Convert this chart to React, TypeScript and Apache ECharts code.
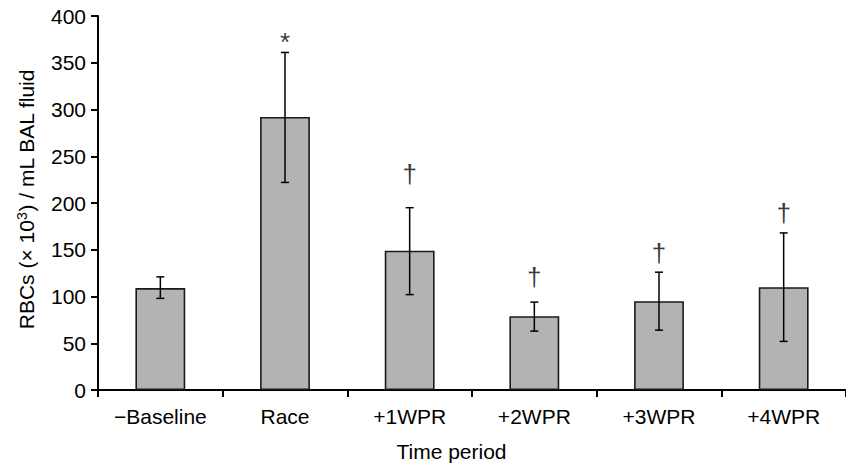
import React, { useEffect, useRef } from "react";
import * as echarts from "echarts";

const categories = ["\u2212Baseline", "Race", "+1WPR", "+2WPR", "+3WPR", "+4WPR"];
const means = [109, 292, 149, 79, 95, 110];
const errLow = [98, 222, 102, 63, 64, 52];
const errHigh = [121, 361, 195, 94, 126, 168];
const annoText = ["", "*", "\u2020", "\u2020", "\u2020", "\u2020"];
const annoY = [0, 372, 231, 121, 147, 189];
const yTicks = { min: 0, max: 400, interval: 50 };

const FONT = "'Liberation Sans', Arial, Helvetica, sans-serif";

export default function App() {
  const ref = useRef<HTMLDivElement>(null);
  useEffect(() => {
    if (!ref.current) return;
    const chart = echarts.init(ref.current, undefined, { renderer: "svg" });
    const annoData = categories
      .map((_, i) => [i, annoY[i]])
      .filter((_, i) => annoText[i] !== "");
    const annoIdx = categories.map((_, i) => i).filter((i) => annoText[i] !== "");
    chart.setOption({
      animation: false,
      textStyle: { fontFamily: FONT },
      grid: { left: 98, right: -5, top: 16, bottom: 76.5, containLabel: false },
      xAxis: {
        type: "category",
        data: categories,
        boundaryGap: true,
        name: "Time period",
        nameLocation: "middle",
        nameGap: 51,
        nameTextStyle: { fontSize: 21, color: "#000", fontFamily: FONT, padding: [0, 41, 0, 0] },
        axisLine: { lineStyle: { color: "#000", width: 2 } },
        axisTick: { show: true, length: 7, lineStyle: { color: "#000", width: 2 } },
        axisLabel: { fontSize: 21, color: "#000", margin: 16, fontFamily: FONT, interval: 0 },
        splitLine: { show: false },
      },
      yAxis: {
        type: "value",
        min: yTicks.min,
        max: yTicks.max,
        interval: yTicks.interval,
        name: "RBCs (\u00d7 10{sup|3}) / mL BAL fluid",
        nameLocation: "middle",
        nameGap: 60,
        nameTextStyle: {
          fontSize: 21,
          color: "#000",
          fontFamily: FONT,
          padding: [0, 0, 0, 8],
          rich: {
            sup: { fontSize: 14, verticalAlign: "top", padding: [0, 0, 9, 0], color: "#000", fontFamily: FONT },
          },
        },
        axisLine: { show: true, lineStyle: { color: "#000", width: 2 } },
        axisTick: { show: true, length: 7, lineStyle: { color: "#000", width: 2 } },
        axisLabel: { fontSize: 21, color: "#000", margin: 12, fontFamily: FONT },
        splitLine: { show: false },
      },
      series: [
        {
          type: "bar",
          data: means,
          barWidth: "40%",
          itemStyle: { color: "#b3b3b3", borderColor: "#1a1a1a", borderWidth: 1.6 },
          z: 2,
        },
        {
          type: "custom",
          data: categories.map((_, i) => [i, errLow[i], errHigh[i]]),
          z: 3,
          renderItem: (params: any, api: any) => {
            const x = api.value(0);
            const lo = api.coord([x, api.value(1)]);
            const hi = api.coord([x, api.value(2)]);
            const cap = 4;
            const style = { stroke: "#000", lineWidth: 1.5 };
            return {
              type: "group",
              children: [
                { type: "line", shape: { x1: hi[0], y1: hi[1], x2: lo[0], y2: lo[1] }, style },
                { type: "line", shape: { x1: hi[0] - cap, y1: hi[1], x2: hi[0] + cap, y2: hi[1] }, style },
                { type: "line", shape: { x1: lo[0] - cap, y1: lo[1], x2: lo[0] + cap, y2: lo[1] }, style },
              ],
            };
          },
        },
        {
          type: "scatter",
          data: annoData,
          symbolSize: 0,
          z: 4,
          label: {
            show: true,
            position: "inside",
            color: "#000",
            fontFamily: FONT,
            fontSize: 26,
            formatter: (p: any) => annoText[annoIdx[p.dataIndex]],
          },
        },
      ],
    });
    return () => chart.dispose();
  }, []);
  return <div ref={ref} style={{ width: 846, height: 467, position: "absolute", left: 0, top: 0 }} />;
}
